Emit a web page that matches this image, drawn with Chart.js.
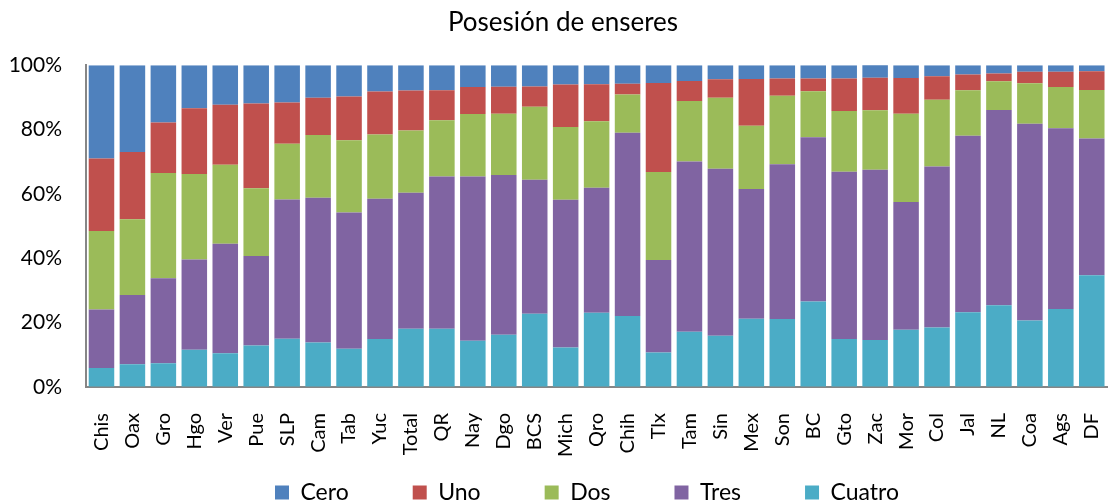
<!DOCTYPE html>
<html lang="es">
<head>
  <meta charset="UTF-8">
  <title>Posesión de enseres</title>
  <style>
    html, body { margin: 0; padding: 0; background: #fff; overflow: hidden; }
    .chart-box { width: 1142px; height: 502px; }
  </style>
</head>
<body>
  <div class="chart-box">
    <canvas id="chart"></canvas>
  </div>
  <script src="https://cdn.jsdelivr.net/npm/chart.js@4/dist/chart.umd.min.js"></script>
  <script>
    const estados = ['Chis', 'Oax', 'Gro', 'Hgo', 'Ver', 'Pue', 'SLP', 'Cam', 'Tab', 'Yuc', 'Total',
      'QR', 'Nay', 'Dgo', 'BCS', 'Mich', 'Qro', 'Chih', 'Tlx', 'Tam', 'Sin', 'Mex',
      'Son', 'BC', 'Gto', 'Zac', 'Mor', 'Col', 'Jal', 'NL', 'Coa', 'Ags', 'DF'];

    // porcentajes por estado
    const cuatro = [5.9, 7.1, 7.4, 11.6, 10.5, 12.9, 15.0, 13.8, 11.9, 14.9, 18.1,
      18.1, 14.4, 16.2, 22.8, 12.3, 23.1, 22.1, 10.7, 17.2, 15.9, 21.2,
      21.1, 26.6, 14.9, 14.6, 17.8, 18.5, 23.2, 25.4, 20.7, 24.2, 34.7];
    const tres = [18.2, 21.5, 26.4, 28.0, 34.0, 27.8, 43.3, 45.0, 42.3, 43.6, 42.3,
      47.3, 51.0, 49.7, 41.6, 45.9, 38.8, 56.9, 28.8, 52.9, 51.9, 40.3,
      48.1, 51.0, 52.0, 52.9, 39.7, 50.0, 54.9, 60.7, 61.1, 56.2, 42.5];
    const dos = [24.4, 23.5, 32.7, 26.6, 24.6, 21.1, 17.3, 19.5, 22.5, 20.0, 19.3,
      17.5, 19.4, 19.0, 22.7, 22.6, 20.7, 11.9, 27.3, 18.8, 22.1, 19.7,
      21.3, 14.3, 18.9, 18.5, 27.4, 20.8, 14.1, 8.9, 12.6, 12.8, 15.1];
    const uno = [22.5, 20.9, 15.7, 20.4, 18.6, 26.3, 12.8, 11.6, 13.6, 13.3, 12.4,
      9.3, 8.4, 8.4, 6.3, 13.2, 11.5, 3.3, 27.7, 6.2, 5.7, 14.5,
      5.4, 4.0, 10.1, 10.1, 11.1, 7.3, 4.9, 2.4, 3.6, 4.8, 5.8];
    const cero = [29.0, 27.0, 17.8, 13.4, 12.3, 11.9, 11.6, 10.1, 9.7, 8.2, 7.9,
      7.8, 6.8, 6.7, 6.6, 6.0, 5.9, 5.8, 5.5, 4.9, 4.4, 4.3,
      4.1, 4.1, 4.1, 4.1, 4.0, 3.4, 2.9, 2.6, 2.0, 2.0, 1.9];
    const yTicks = [0, 20, 40, 60, 80, 100];

    const fuente = 'Lato, "Open Sans", sans-serif';

    // mueve la leyenda a su sitio (padding grande entre items)
    const legendShift = {
      id: 'legendShift',
      afterLayout(chart) {
        const lg = chart.legend;
        const pad = lg.options.labels.padding;
        lg.left += 24;
        lg.right += 24;
        lg.top = 481 - pad;
      }
    };

    new Chart(document.getElementById('chart'), {
      type: 'bar',
      data: {
        labels: estados,
        datasets: [
          { label: 'Cuatro', data: cuatro, backgroundColor: '#4BACC6' },
          { label: 'Tres', data: tres, backgroundColor: '#8064A2' },
          { label: 'Dos', data: dos, backgroundColor: '#9BBB59' },
          { label: 'Uno', data: uno, backgroundColor: '#C0504D' },
          { label: 'Cero', data: cero, backgroundColor: '#4F81BD' }
        ]
      },
      options: {
        responsive: true,
        maintainAspectRatio: false,
        animation: false,
        barPercentage: 0.825,
        categoryPercentage: 1,
        layout: { padding: { left: 0, right: 16, top: 0, bottom: 0 } },
        plugins: {
          title: {
            display: true,
            text: 'Posesión de enseres',
            color: '#000',
            font: { family: fuente, size: 26, weight: 'normal' },
            padding: { top: 7, bottom: 27 }
          },
          legend: {
            position: 'bottom',
            reverse: true,
            maxHeight: 40,
            labels: {
              color: '#000',
              font: { family: fuente, size: 23 },
              boxWidth: 14,
              boxHeight: 14,
              padding: 64
            }
          },
          tooltip: { enabled: false }
        },
        scales: {
          x: {
            stacked: true,
            grid: { drawOnChartArea: false, drawTicks: false },
            border: { color: '#868686', width: 2 },
            ticks: {
              color: '#000',
              font: { family: fuente, size: 20 },
              minRotation: 90,
              maxRotation: 90,
              autoSkip: false,
              padding: 26
            },
            afterFit(scale) { scale.height = 75; }
          },
          y: {
            stacked: true,
            min: 0,
            max: 100,
            grid: { drawOnChartArea: false, drawTicks: false },
            border: { color: '#868686', width: 2 },
            afterBuildTicks(scale) { scale.ticks = yTicks.map(v => ({ value: v })); },
            ticks: {
              color: '#000',
              font: { family: fuente, size: 21 },
              padding: 24,
              callback: v => v + '%'
            },
            afterFit(scale) { scale.width = 86; }
          }
        }
      },
      plugins: [legendShift]
    });
  </script>
</body>
</html>
